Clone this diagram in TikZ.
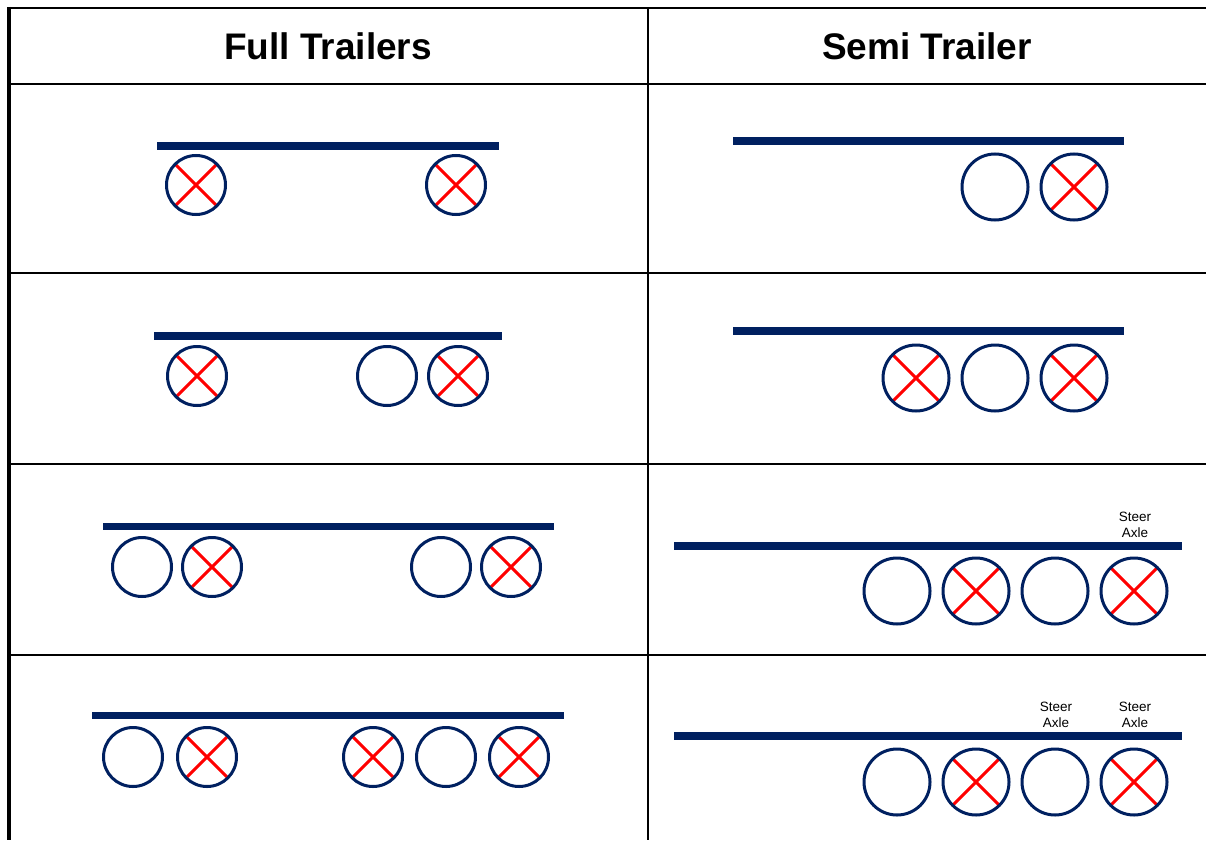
\documentclass[tikz,border=0pt]{standalone}
\usepackage{fontspec}
\setmainfont{Liberation Sans}
\usepackage{tikz}
\definecolor{navy}{RGB}{0,32,96}
\definecolor{red}{rgb}{1.0,0.0,0.0}

\begin{document}
\begin{tikzpicture}[x=1pt,y=-1pt,
	wheel/.style={circle, draw=navy, line width=3pt, minimum size=59pt, inner sep=0pt},
	bigwheel/.style={wheel, minimum size=66pt},
	braked/.style={path picture={\draw[red, line width=3pt] (path picture bounding box.north west) -- (path picture bounding box.south east) (path picture bounding box.north east) -- (path picture bounding box.south west);}},
	bar/.style={navy, line width=7.5pt},
	rule/.style={black, line width=2pt},
	head/.style={inner sep=0pt, font=\fontsize{37}{40}\selectfont\bfseries},
	steer/.style={inner sep=0pt, align=center, font=\fontsize{13.5}{16}\selectfont}]
	\useasboundingbox (0,0) rectangle (1206,840);

	% table
	\draw [rule] (7,8) -- (1206,8);
	\foreach \y in {84,273,464,655}
		\draw [rule] (9,\y) -- (1206,\y);
	\draw [rule] (648,8) -- (648,840);
	\draw [black, line width=4pt] (9,7) -- (9,840);
	\node [head] (fullhead) at (328,46) {Full Trailers};
	\node [head] (semihead) at (927,46) {Semi Trailer};

	% full trailers
	\draw [bar] (157,146) -- (499,146);
	\node [wheel, braked] (f1a) at (196,185) {};
	\node [wheel, braked] (f1b) at (456,185) {};

	\draw [bar] (154,336) -- (502,336);
	\node [wheel, braked] (f2a) at (197,376) {};
	\node [wheel] (f2b) at (387,376) {};
	\node [wheel, braked, right of=f2b, node distance=71pt] (f2c) {};

	\draw [bar] (103,526.5) -- (554,526.5);
	\node [wheel] (f3a) at (142,567) {};
	\node [wheel, braked, right of=f3a, node distance=70pt] (f3b) {};
	\node [wheel] (f3c) at (441,567) {};
	\node [wheel, braked, right of=f3c, node distance=70pt] (f3d) {};

	\draw [bar] (92,715.5) -- (564,715.5);
	\node [wheel] (f4a) at (133,757) {};
	\node [wheel, braked, right of=f4a, node distance=74pt] (f4b) {};
	\node [wheel, braked] (f4c) at (373,757) {};
	\node [wheel, right of=f4c, node distance=73pt] (f4d) {};
	\node [wheel, braked, right of=f4d, node distance=73pt] (f4e) {};

	% semi trailers
	\draw [bar] (733,141) -- (1124,141);
	\node [bigwheel] (s1a) at (995,187) {};
	\node [bigwheel, braked, right of=s1a, node distance=79pt] (s1b) {};

	\draw [bar] (733,331) -- (1124,331);
	\node [bigwheel, braked] (s2a) at (916,378) {};
	\node [bigwheel, right of=s2a, node distance=79pt] (s2b) {};
	\node [bigwheel, braked, right of=s2b, node distance=79pt] (s2c) {};

	\draw [bar] (674,546) -- (1182,546);
	\node [bigwheel] (s3a) at (897,591) {};
	\node [bigwheel, braked, right of=s3a, node distance=79pt] (s3b) {};
	\node [bigwheel, right of=s3b, node distance=79pt] (s3c) {};
	\node [bigwheel, braked, right of=s3c, node distance=79pt] (s3d) {};
	\node [steer] (steer3d) at (1135,525) {Steer\\Axle};

	\draw [bar] (674,736) -- (1182,736);
	\node [bigwheel] (s4a) at (897,782) {};
	\node [bigwheel, braked, right of=s4a, node distance=79pt] (s4b) {};
	\node [bigwheel, right of=s4b, node distance=79pt] (s4c) {};
	\node [bigwheel, braked, right of=s4c, node distance=79pt] (s4d) {};
	\node [steer] (steer4c) at (1056,715) {Steer\\Axle};
	\node [steer] (steer4d) at (1135,715) {Steer\\Axle};
\end{tikzpicture}
\end{document}
